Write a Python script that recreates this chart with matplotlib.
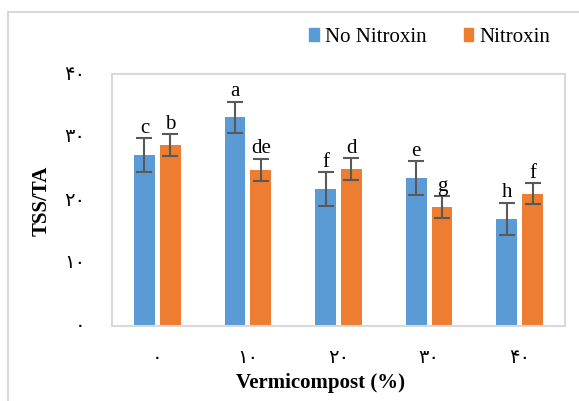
import matplotlib
matplotlib.use("Agg")
import matplotlib.pyplot as plt
import matplotlib.transforms as mtransforms
import numpy as np
from matplotlib.patches import Patch, Rectangle

categories = ["۰", "۱۰", "۲۰", "۳۰", "۴۰"]
no_nitroxin = [27.1, 33.1, 21.7, 23.5, 17.0]
no_nitroxin_err = [2.7, 2.5, 2.7, 2.65, 2.6]
nitroxin = [28.7, 24.8, 24.9, 18.9, 21.0]
nitroxin_err = [1.75, 1.75, 1.75, 1.7, 1.7]
no_nitroxin_letters = ["c", "a", "f", "e", "h"]
nitroxin_letters = ["b", "de", "d", "g", "f"]
y_ticks = [0, 10, 20, 30, 40]
y_tick_labels = ["۰", "۱۰", "۲۰", "۳۰", "۴۰"]

serif = ["Liberation Serif", "DejaVu Serif"]
digits = ["DejaVu Sans"]

fig = plt.figure(figsize=(5.79, 4.02), dpi=100)
# outer chart frame (left and top edges visible)
fig.patches.append(Rectangle((8 / 579, -0.1), 1.2, 1 - 13 / 402 + 0.1,
                             transform=fig.transFigure, fill=False,
                             edgecolor="#d9d9d9", linewidth=1.5))

ax = fig.add_axes([112 / 579, 1 - 327 / 402, 453 / 579, 252 / 402])
x = np.arange(len(categories))
w = 0.23
off = 0.142
blue = "#5B9BD5"
orange = "#ED7D31"
errkw = dict(ecolor="#595959", elinewidth=1.5, capsize=5.5, capthick=1.5)

ax.bar(x - off, no_nitroxin, w, color=blue, yerr=no_nitroxin_err, error_kw=errkw)
ax.bar(x + off, nitroxin, w, color=orange, yerr=nitroxin_err, error_kw=errkw)

for xs, vals, errs, labs in [(x - off, no_nitroxin, no_nitroxin_err, no_nitroxin_letters),
                             (x + off, nitroxin, nitroxin_err, nitroxin_letters)]:
    for xi, v, e, lab in zip(xs, vals, errs, labs):
        ax.annotate(lab, (xi, v + e), xytext=(0, 1), textcoords="offset points",
                    ha="center", va="bottom", fontsize=15, family=serif)

ax.set_xlim(-0.5, len(categories) - 0.5)
ax.set_ylim(0, 40)
ax.set_xticks(x)
ax.set_xticklabels(categories, family=digits, fontsize=14)
ax.set_yticks(y_ticks)
ax.set_yticklabels(y_tick_labels, family=digits, fontsize=14)
ax.tick_params(length=0, axis="x", pad=15)
ax.tick_params(length=0, axis="y", pad=19)
# y labels sit a little above their grid positions, as in the original
shift = mtransforms.ScaledTranslation(0, 3 / 100, fig.dpi_scale_trans)
for lab in ax.get_yticklabels():
    lab.set_transform(lab.get_transform() + shift)
for s in ax.spines.values():
    s.set_color("#d9d9d9")
    s.set_linewidth(1.5)

fig.text(320 / 579, 1 - 383 / 402, "Vermicompost (%)", ha="center", va="center",
         fontsize=15, fontweight="bold", family=serif)
fig.text(42 / 579, 1 - 201 / 402, "TSS/TA", ha="center", va="center", rotation=90,
         fontsize=15, fontweight="bold", family=serif)

handles = [Patch(color=blue), Patch(color=orange)]
fig.legend(handles, ["No Nitroxin", "Nitroxin"], loc="center", ncol=2,
           bbox_to_anchor=(430 / 579, 1 - 38 / 402), frameon=False,
           prop={"family": serif, "size": 15}, handlelength=0.45, handleheight=0.6,
           handletextpad=0.3, columnspacing=1.8)

fig.savefig("out.png", dpi=100)
